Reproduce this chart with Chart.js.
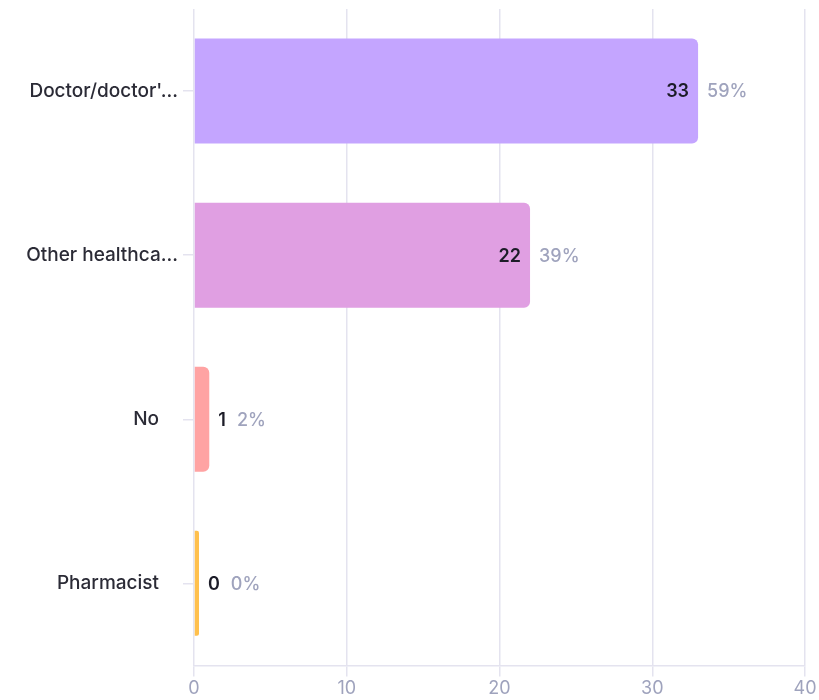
<!DOCTYPE html>
<html>
<head>
<meta charset="utf-8">
<script src="https://cdn.jsdelivr.net/npm/chart.js@4.4.0/dist/chart.umd.min.js"></script>
<style>
  html, body { margin: 0; padding: 0; background: #fff; }
  #wrap { width: 819px; height: 700px; }
</style>
</head>
<body>
<div id="wrap"><canvas id="chart" width="819" height="700"></canvas></div>
<script>
// short labels are padded with a trailing space in the source chart
const categories = ["Doctor/doctor'...", "Other healthca...", "No\u2003", "Pharmacist\u2003"];
const counts = [33, 22, 1, 0];
const percentLabels = ["59%", "39%", "2%", "0%"];
const barColors = ['#c4a5ff', '#e09fe2', '#ffa3a3', '#ffc04d'];
const xTicks = [0, 10, 20, 30, 40];

const gridColor = '#e4e3ef';
const fontFamily = 'Inter, "Noto Sans", sans-serif';

// value + percent labels at the end of each bar
const endLabels = {
    id: 'endLabels',
    afterDatasetsDraw(chart) {
        const ctx = chart.ctx;
        const meta = chart.getDatasetMeta(0);
        ctx.save();
        ctx.textBaseline = 'middle';
        meta.data.forEach((bar, i) => {
            const val = String(counts[i]);
            const pct = percentLabels[i];
            ctx.font = '600 18px ' + fontFamily;
            const vw = ctx.measureText(val).width;
            const barW = bar.x - bar.base;
            let x;
            ctx.fillStyle = '#1c1c28';
            if (barW > vw + 30) {
                ctx.textAlign = 'right';
                ctx.fillText(val, bar.x - 9, bar.y + 1);
                x = bar.x + 9;
            } else {
                ctx.textAlign = 'left';
                ctx.fillText(val, bar.x + 9, bar.y + 1);
                x = bar.x + 9 + vw + 11;
            }
            ctx.font = '500 18px ' + fontFamily;
            ctx.fillStyle = '#9fa3bd';
            ctx.textAlign = 'left';
            ctx.fillText(pct, x, bar.y + 1);
        });
        ctx.restore();
    }
};

new Chart(document.getElementById('chart'), {
    type: 'bar',
    data: {
        labels: categories,
        datasets: [{
            data: counts,
            backgroundColor: barColors,
            borderRadius: { topRight: 6, bottomRight: 6, topLeft: 0, bottomLeft: 0 },
            borderSkipped: 'left',
            minBarLength: 5,
            barPercentage: 0.64,
            categoryPercentage: 1.0
        }]
    },
    options: {
        indexAxis: 'y',
        responsive: false,
        animation: false,
        layout: { padding: { top: 9, right: 14, left: 0, bottom: 0 } },
        plugins: {
            legend: { display: false },
            tooltip: { enabled: false }
        },
        scales: {
            x: {
                min: 0,
                max: 40,
                afterBuildTicks: (scale) => { scale.ticks = xTicks.map(v => ({ value: v })); },
                grid: { color: gridColor, lineWidth: 1.5, tickLength: 11 },
                border: { color: gridColor, width: 1.5 },
                ticks: {
                    color: '#9fa3bd',
                    font: { family: fontFamily, size: 18 },
                    padding: 1
                }
            },
            y: {
                afterFit: (scale) => {
                    scale.width = 194;
                    scale.paddingTop = 0;
                },
                grid: { offset: false, drawOnChartArea: false, color: gridColor, lineWidth: 1.5, tickLength: 11 },
                border: { display: false },
                ticks: {
                    color: '#2b2b36',
                    font: { family: fontFamily, size: 19, weight: 500 },
                    padding: 5
                }
            }
        }
    },
    plugins: [endLabels]
});
</script>
</body>
</html>
